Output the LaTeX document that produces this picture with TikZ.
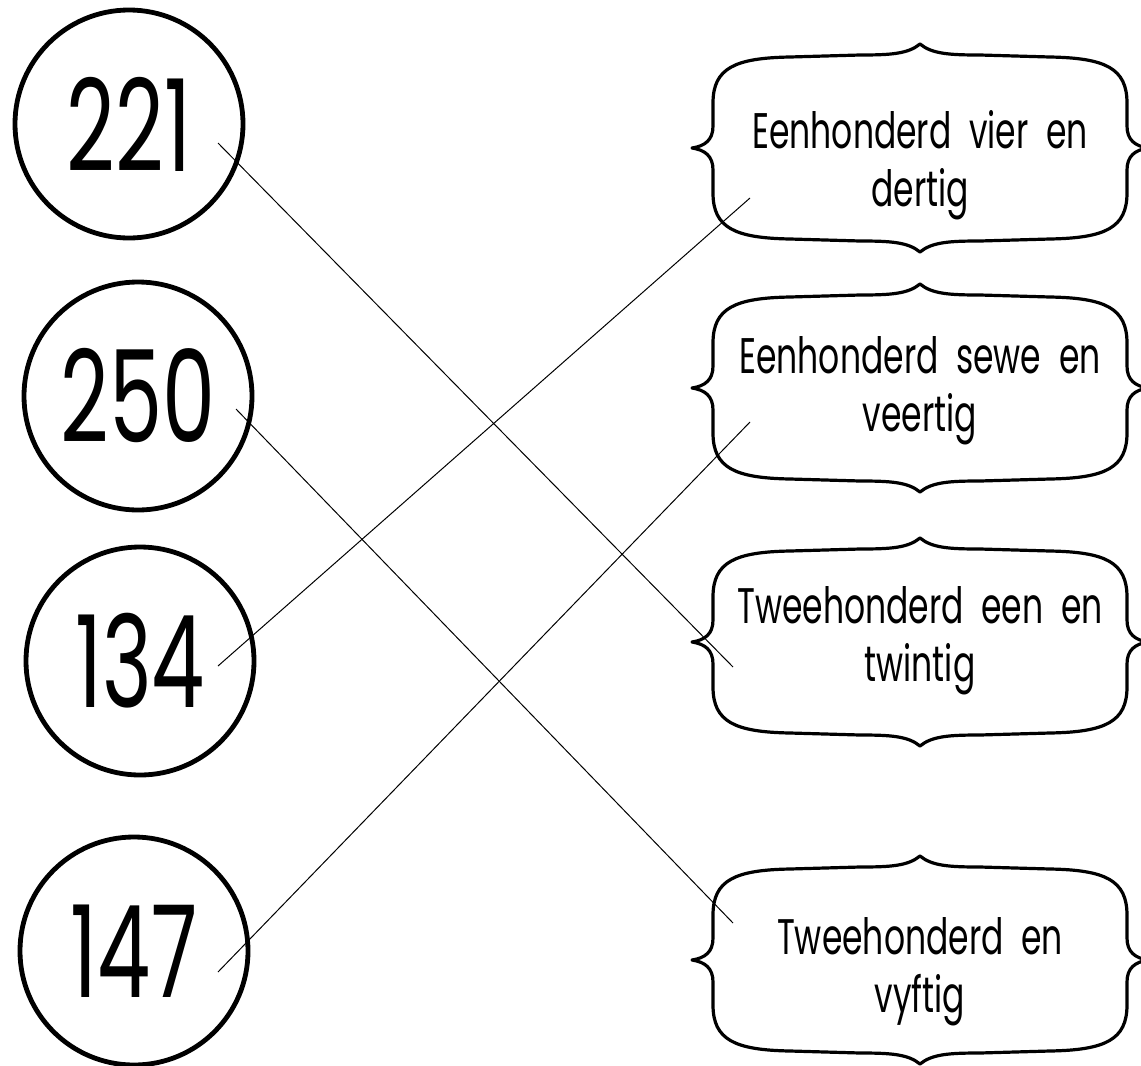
\documentclass[tikz,border=0pt]{standalone}
\usepackage{fontspec}
\setmainfont{Poppins}[FakeStretch=0.66, WordSpace=2]
\usepackage{tikz}

\begin{document}
\begin{tikzpicture}
	[
		x=0.5pt, y=-0.5pt,
		C/.style = {circle, draw, line width=2.4pt, minimum size=114pt, inner sep=0pt, font=\fontsize{64}{64}\selectfont},
		B/.style = {rectangle, align=center, draw=none, fill=none, font=\fontsize{25}{29}\selectfont},
		F/.style = {line width=1.6pt, line join=round},
		L/.style = {line width=0.5pt},
	]
	\useasboundingbox (0,0) rectangle (1141,1066);

	% number circles
	\node[C] (c1) 	at ( 129, 124 ) {221};
	\node[C] (c2) 	at ( 138, 396 ) {250};
	\node[C] (c3) 	at ( 140, 661 ) {134};
	\node[C] (c4) 	at ( 134, 951 ) {147};

	% word boxes
	\node[B] (b1) 	at ( 920, 165 ) {Eenhonderd vier en\\dertig};
	\node[B] (b2) 	at ( 920, 391 ) {Eenhonderd sewe en\\veertig};
	\node[B] (b3) 	at ( 920, 641 ) {Tweehonderd een en\\twintig};
	\node[B] (b4) 	at ( 920, 972 ) {Tweehonderd en\\vyftig};

	% bracket frames
	\foreach \b/\dy in {b1/-17,b2/-3,b3/1,b4/-12}
	\draw[F, shift={(\b.center)}, shift={(0,\dy)}]
		(0,-104) .. controls (12,-94) and (30,-93) .. (60,-93) -- (130,-91)
		.. controls (185,-90) and (207,-80) .. (207,-45) -- (207,-22)
		.. controls (207,-8) and (215,-2) .. (228,0)
		.. controls (215,2) and (207,8) .. (207,22) -- (207,45)
		.. controls (207,80) and (185,90) .. (130,91) -- (60,93)
		.. controls (30,93) and (12,94) .. (0,104)
		.. controls (-12,94) and (-30,93) .. (-60,93) -- (-130,91)
		.. controls (-185,90) and (-207,80) .. (-207,45) -- (-207,22)
		.. controls (-207,8) and (-215,2) .. (-228,0)
		.. controls (-215,-2) and (-207,-8) .. (-207,-22) -- (-207,-45)
		.. controls (-207,-80) and (-185,-90) .. (-130,-91) -- (-60,-93)
		.. controls (-30,-93) and (-12,-94) .. (0,-104) -- cycle;

	% line ends
	\coordinate (s1) at ([shift={(89,19)}]c1.center);
	\coordinate (s2) at ([shift={(98,13)}]c2.center);
	\coordinate (s3) at ([shift={(78,5)}]c3.center);
	\coordinate (s4) at ([shift={(84,21)}]c4.center);
	\coordinate (e1) at ([shift={(-170,33)}]b1.center);
	\coordinate (e2) at ([shift={(-170,31)}]b2.center);
	\coordinate (e3) at ([shift={(-187,26)}]b3.center);
	\coordinate (e4) at ([shift={(-187,-49)}]b4.center);

	\foreach \from/\to in {s1/e3,s2/e4,s3/e1,s4/e2}
	\draw[L] (\from) -- (\to);

\end{tikzpicture}
\end{document}
